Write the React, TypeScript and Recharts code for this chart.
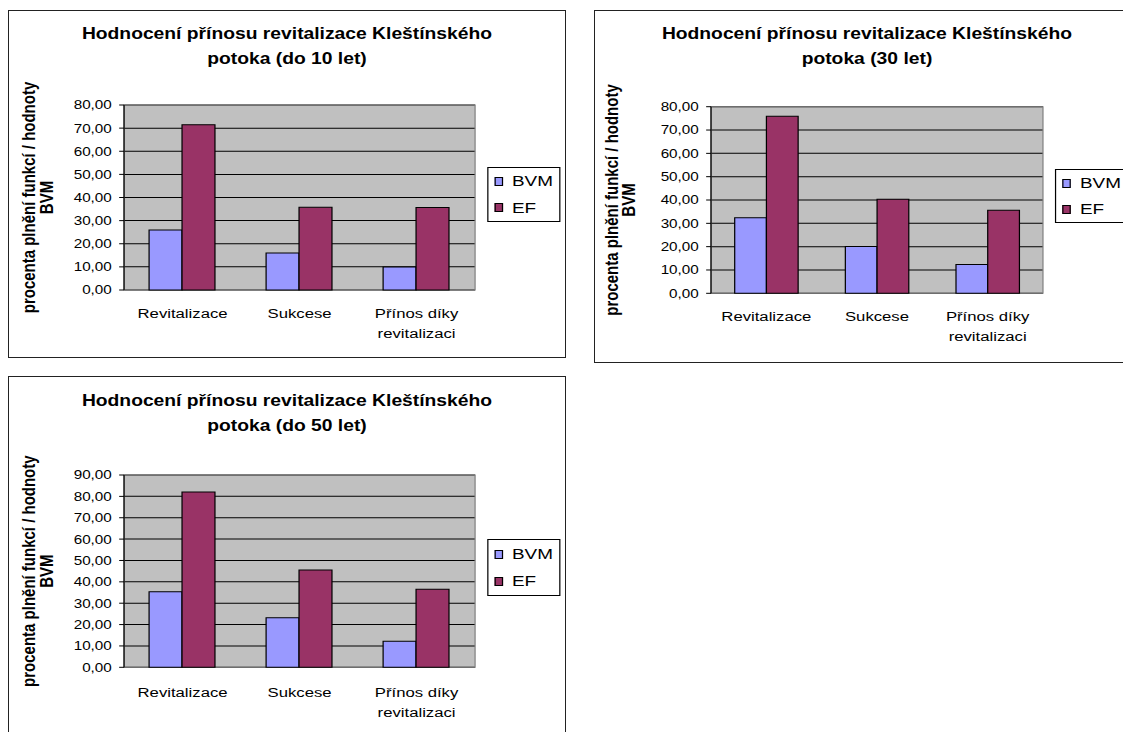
import React from 'react';
import {
  BarChart,
  Bar,
  XAxis,
  YAxis,
  CartesianGrid,
  Legend,
  ReferenceArea,
  Text,
} from 'recharts';

// ---- data ----
const CATEGORIES = ['Revitalizace', 'Sukcese', 'Přínos díky revitalizaci'];
const SERIES_NAMES = ['BVM', 'EF'];
const SERIES_COLORS = ['#9999FF', '#993366'];

const BVM_10 = [25.9, 16.0, 9.9];
const EF_10 = [71.5, 35.8, 35.7];

const BVM_30 = [32.4, 20.1, 12.3];
const EF_30 = [75.9, 40.3, 35.6];

const BVM_50 = [35.4, 23.2, 12.2];
const EF_50 = [82.0, 45.5, 36.5];

const TICKS_80 = [0, 10, 20, 30, 40, 50, 60, 70, 80];
const TICKS_90 = [0, 10, 20, 30, 40, 50, 60, 70, 80, 90];

const TITLE_HEAD = 'Hodnocení přínosu revitalizace Kleštínského';
const TITLE_10 = [TITLE_HEAD, 'potoka (do 10 let)'];
const TITLE_30 = [TITLE_HEAD, 'potoka (30 let)'];
const TITLE_50 = [TITLE_HEAD, 'potoka (do 50 let)'];
const Y_LABEL = ['procenta plnění funkcí / hodnoty', 'BVM'];

// ---- styling ----
const FONT = '"Liberation Sans", Arial, Helvetica, sans-serif';
const SX = 1.22; // horizontal stretch of each chart sheet
const EDGE_TICKS = [...CATEGORIES.map((_, i) => i), CATEGORIES.length];

const fmt = (v: number) => v.toFixed(2).replace('.', ',');

const buildRows = (bvm: number[], ef: number[]) =>
  CATEGORIES.map((name, i) => ({ name, [SERIES_NAMES[0]]: bvm[i], [SERIES_NAMES[1]]: ef[i] }));

type PanelProps = {
  box: { left: number; top: number; width: number; height: number };
  title: string[];
  titleTop: number;
  bvm: number[];
  ef: number[];
  ticks: number[];
  marginTop: number;
  marginRight: number;
  yAxisWidth: number;
  xAxisHeight: number;
  yTitleX: number[];
  labelGap: number;
  legend: { left: number; top: number; width: number; height: number };
};

const CategoryTick = (props: any) => {
  const { x, y, payload, band, gap } = props;
  return (
    <Text
      x={x}
      y={y + gap}
      width={band - 6}
      textAnchor="middle"
      verticalAnchor="start"
      lineHeight={20}
      fontSize={13.7}
      fill="#000"
      fontFamily={FONT}
    >
      {payload.value}
    </Text>
  );
};

const makeYTitle = (xs: number[]) => (props: any) => {
  const vb = props.viewBox || { y: 0, height: 0 };
  const cy = vb.y + vb.height / 2;
  return (
    <g>
      {Y_LABEL.map((line, i) => (
        <text
          key={i}
          x={xs[i]}
          y={cy}
          transform={`rotate(-90 ${xs[i]} ${cy})`}
          textAnchor="middle"
          dominantBaseline="central"
          fontSize={15}
          fontWeight="bold"
          fontFamily={FONT}
          fill="#000"
        >
          {line}
        </text>
      ))}
    </g>
  );
};

const LegendBox = (props: any) => {
  const items = props.payload || [];
  return (
    <div
      style={{
        boxSizing: 'border-box',
        width: '100%',
        height: '100%',
        border: '1px solid #000',
        background: '#fff',
        display: 'flex',
        flexDirection: 'column',
        justifyContent: 'center',
        fontFamily: FONT,
        fontSize: 15.5,
      }}
    >
      {items.map((it: any) => (
        <div
          key={it.value}
          style={{ display: 'flex', alignItems: 'center', height: 27, position: 'relative' }}
        >
          <span
            style={{
              position: 'absolute',
              left: 5,
              width: 7.4,
              height: 9,
              boxSizing: 'border-box',
              background: it.color,
              border: '1px solid #000',
            }}
          />
          <span style={{ position: 'absolute', left: 19.5, color: '#000' }}>{it.value}</span>
        </div>
      ))}
    </div>
  );
};

const Panel = (p: PanelProps) => {
  const innerW = (p.box.width - 2) / SX;
  const innerH = p.box.height - 2;
  const plotW = innerW - p.marginRight - p.yAxisWidth;
  const band = plotW / CATEGORIES.length;
  const max = p.ticks[p.ticks.length - 1];
  const rows = buildRows(p.bvm, p.ef);
  return (
    <div
      style={{
        position: 'absolute',
        left: p.box.left,
        top: p.box.top,
        width: p.box.width,
        height: p.box.height,
        boxSizing: 'border-box',
        border: '1px solid #222',
        background: '#fff',
        overflow: 'hidden',
      }}
    >
      <div
        style={{
          position: 'absolute',
          left: 0,
          top: 0,
          width: innerW,
          height: innerH,
          transform: `scaleX(${SX})`,
          transformOrigin: '0 0',
        }}
      >
        <div
          style={{
            position: 'absolute',
            left: 0,
            top: p.titleTop,
            width: '100%',
            textAlign: 'center',
            fontFamily: FONT,
            fontWeight: 'bold',
            fontSize: 15.8,
            lineHeight: '25px',
            color: '#000',
          }}
        >
          {p.title.map((t) => (
            <div key={t}>{t}</div>
          ))}
        </div>
        <div style={{ position: 'absolute', left: 0, top: 0 }}>
          <BarChart
            width={innerW}
            height={innerH}
            data={rows}
            margin={{ top: p.marginTop, right: p.marginRight, bottom: 0, left: 0 }}
            barCategoryGap="21.4%"
            barGap={0}
            style={{ fontFamily: FONT }}
          >
            <CartesianGrid
              xAxisId="cat"
              vertical={false}
              stroke="#000"
              fill="#C0C0C0"
              fillOpacity={1}
            />
            <XAxis
              xAxisId="edge"
              type="number"
              domain={[0, CATEGORIES.length]}
              ticks={EDGE_TICKS}
              allowDataOverflow
              tick={false}
              height={0}
              tickSize={5}
              axisLine={{ stroke: '#000' }}
              tickLine={{ stroke: '#000' }}
            />
            <XAxis
              xAxisId="cat"
              dataKey="name"
              height={p.xAxisHeight}
              axisLine={false}
              tickLine={false}
              tickSize={0}
              tickMargin={0}
              interval={0}
              tick={<CategoryTick band={band} gap={p.labelGap} />}
            />
            <YAxis
              width={p.yAxisWidth}
              domain={[0, max]}
              ticks={p.ticks}
              interval={0}
              tickFormatter={fmt}
              tickSize={4}
              tickMargin={6}
              axisLine={{ stroke: '#000' }}
              tickLine={{ stroke: '#000' }}
              tick={{ fontSize: 12.5, fill: '#000', fontFamily: FONT }}
              label={{ content: makeYTitle(p.yTitleX) }}
            />
            <Bar
              xAxisId="cat"
              dataKey={SERIES_NAMES[0]}
              name={SERIES_NAMES[0]}
              fill={SERIES_COLORS[0]}
              stroke="#000"
              strokeWidth={1}
              isAnimationActive={false}
            />
            <Bar
              xAxisId="cat"
              dataKey={SERIES_NAMES[1]}
              name={SERIES_NAMES[1]}
              fill={SERIES_COLORS[1]}
              stroke="#000"
              strokeWidth={1}
              isAnimationActive={false}
            />
            <ReferenceArea
              xAxisId="cat"
              y1={0}
              y2={max}
              fill="none"
              fillOpacity={0}
              stroke="#808080"
              strokeWidth={1}
              ifOverflow="visible"
            />
            <Legend
              layout="vertical"
              align="center"
              verticalAlign="middle"
              wrapperStyle={{
                left: p.legend.left,
                top: p.legend.top,
                width: p.legend.width,
                height: p.legend.height,
              }}
              content={<LegendBox />}
            />
          </BarChart>
        </div>
      </div>
    </div>
  );
};

export default function App() {
  return (
    <div
      style={{
        position: 'absolute',
        left: 0,
        top: 0,
        width: 1123,
        height: 732,
        overflow: 'hidden',
        background: '#fff',
      }}
    >
      <Panel
        box={{ left: 8, top: 10, width: 558, height: 348 }}
        title={TITLE_10}
        titleTop={9.5}
        bvm={BVM_10}
        ef={EF_10}
        ticks={TICKS_80}
        marginTop={94}
        marginRight={73.7}
        yAxisWidth={94.3}
        xAxisHeight={67}
        yTitleX={[16.4, 31.1]}
        labelGap={18}
        legend={{ left: 391.8, top: 156, width: 59.8, height: 55 }}
      />
      <Panel
        box={{ left: 594, top: 10, width: 546, height: 353 }}
        title={TITLE_30}
        titleTop={9.5}
        bvm={BVM_30}
        ef={EF_30}
        ticks={TICKS_80}
        marginTop={95.7}
        marginRight={78.7}
        yAxisWidth={95.1}
        xAxisHeight={68.7}
        yTitleX={[13.9, 27.9]}
        labelGap={17.7}
        legend={{ left: 377, top: 158, width: 59.8, height: 54 }}
      />
      <Panel
        box={{ left: 8, top: 376, width: 558, height: 360 }}
        title={TITLE_50}
        titleTop={11.2}
        bvm={BVM_50}
        ef={EF_50}
        ticks={TICKS_90}
        marginTop={98}
        marginRight={73.7}
        yAxisWidth={94.3}
        xAxisHeight={67.7}
        yTitleX={[16.4, 31.1]}
        labelGap={19.5}
        legend={{ left: 391.8, top: 162, width: 59.8, height: 57 }}
      />
    </div>
  );
}
